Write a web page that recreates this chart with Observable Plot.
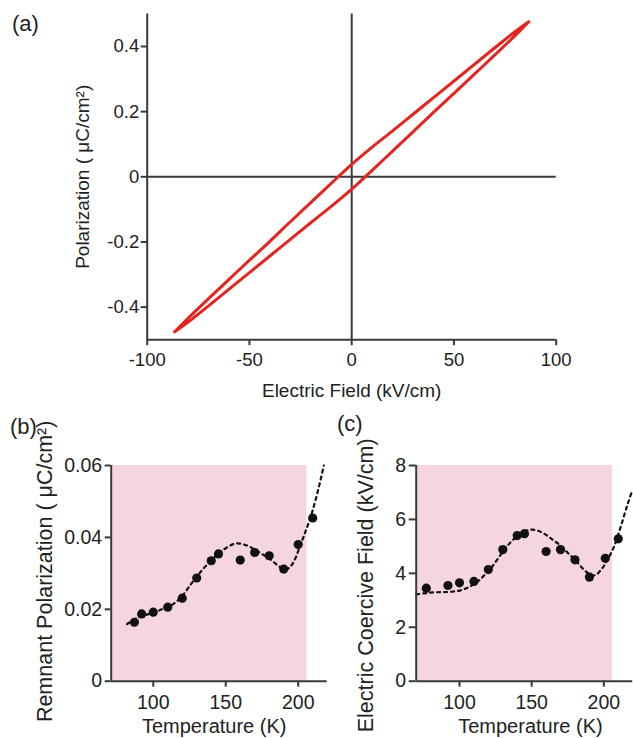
<!DOCTYPE html>
<html><head><meta charset="utf-8">
<script src="https://cdn.jsdelivr.net/npm/d3@7"></script>
<script src="https://cdn.jsdelivr.net/npm/@observablehq/plot@0.6"></script>
<style>
body{margin:0;background:#fff;}
#wrap{position:relative;width:633px;height:738px;font-family:"Liberation Sans",Arial,sans-serif;color:#222;overflow:hidden;background:#fff}
.panel{position:absolute}
.tag{position:absolute;font-size:22px;line-height:1;color:#222}
svg{overflow:visible}
</style></head><body>
<div id="wrap">
  <div class="panel" id="pa" style="left:0;top:0"></div>
  <div class="panel" id="pb" style="left:0;top:400px"></div>
  <div class="panel" id="pc" style="left:330px;top:400px"></div>
  <div class="tag" style="left:12px;top:13px">(a)</div>
  <div class="tag" style="left:10px;top:416px">(b)</div>
  <div class="tag" style="left:337px;top:413px">(c)</div>
</div>
<script>
// ---------- Panel (a): P–E hysteresis loop ----------
const loopE      = [-86.6,-80,-70,-60,-50,-40,-30,-20,-10,0,10,20,30,40,50,60,70,80,86.6];
const loopUpperP = [-0.476,-0.434,-0.374,-0.315,-0.256,-0.198,-0.138,-0.079,-0.020,0.038,0.091,0.141,0.192,0.243,0.294,0.345,0.396,0.446,0.476];
const loopLowerP = [-0.476,-0.446,-0.396,-0.345,-0.294,-0.243,-0.192,-0.141,-0.091,-0.038,0.020,0.079,0.138,0.198,0.256,0.315,0.374,0.434,0.476];
const xTicksA = [-100,-50,0,50,100];
const yTicksA = [-0.4,-0.2,0,0.2,0.4];
const xDomainA = [-100,100];
const yDomainA = [-0.5,0.5];
const xLabelA = "Electric Field (kV/cm)";
const yLabelA = "Polarization ( \u03BCC/cm\u00B2)";

// ---------- Panel (b): remnant polarization vs temperature ----------
const tempB     = [87,92,100,110,120,130,140,145,160,170,180,190,200,210];
const remnantP  = [0.0164,0.0187,0.0192,0.0206,0.0231,0.0287,0.0335,0.0354,0.0337,0.0358,0.0349,0.0312,0.0380,0.0454];
const fitTempB  = [82,90,98,106,114,120,126,130,135,140,145,150,157,165,170,175,180,186,191,194,197,200,204,208.5,213,217.7];
const fitRemP   = [0.0159,0.0178,0.0188,0.0200,0.0215,0.0237,0.0270,0.0290,0.0315,0.0335,0.0355,0.0370,0.0383,0.0377,0.0366,0.0354,0.0341,0.0322,0.0311,0.0316,0.0333,0.0362,0.0405,0.0456,0.0520,0.0600];
const xDomainB = [71,220];
const yDomainB = [0,0.06];
const xTicksB = [100,150,200];
const yTicksB = [0,0.02,0.04,0.06];
const shadeB = {x1: 71, x2: 206, y1: 0, y2: 0.06};

// ---------- Panel (c): coercive field vs temperature ----------
const tempC      = [77,92,100,110,120,130,140,145,160,170,180,190,201,210];
const coerciveE  = [3.45,3.55,3.65,3.70,4.14,4.88,5.40,5.47,4.81,4.88,4.50,3.86,4.56,5.28];
const fitTempC   = [70,77,84.5,92,100,106,112,117,121.5,126,130.7,135,140,145,150.4,155,160.8,165,170,175,180.4,185,189.6,192,195,197.7,200,202.3,206.9,211.6,216.2,219.7];
const fitCoerE   = [3.22,3.27,3.30,3.31,3.36,3.48,3.67,3.92,4.17,4.50,4.85,5.13,5.38,5.55,5.62,5.57,5.40,5.23,5.03,4.76,4.48,4.20,3.98,3.92,3.96,4.11,4.27,4.48,4.97,5.71,6.52,7.07];
const xDomainC = [70,220];
const yDomainC = [0,8];
const xTicksC = [100,150,200];
const yTicksC = [0,2,4,6,8];
const shadeC = {x1: 70, x2: 206, y1: 0, y2: 8};

const xLabelT = "Temperature (K)";
const yLabelB = "Remnant Polarization ( \u03BCC/cm\u00B2)";
const yLabelC = "Electric Coercive Field (kV/cm)";

const axisColor = "#3a3a3a";
const textColor = "#222";
const pink = "#f6d5e2";
const red = "#e3241f";
const font = "'Liberation Sans', Arial, sans-serif";
const fmt = d => String(d);
const baseStyle = {fontFamily: font, fontSize: "18px", color: textColor, background: "transparent", overflow: "visible"};

// loop path: upper branch from +Emax to -Emax, then lower branch back
const loop = [];
for (let i = loopE.length - 1; i >= 0; i--) loop.push({E: loopE[i], P: loopUpperP[i]});
for (let i = 0; i < loopE.length; i++) loop.push({E: loopE[i], P: loopLowerP[i]});

const plotA = Plot.plot({
  width: 633, height: 400,
  marginLeft: 146.7, marginRight: 77.3, marginTop: 13.4, marginBottom: 60.8,
  x: {domain: xDomainA, label: null},
  y: {domain: yDomainA, label: null},
  style: baseStyle,
  marks: [
    Plot.ruleY([0], {stroke: axisColor, strokeWidth: 2}),
    Plot.ruleX([0], {stroke: axisColor, strokeWidth: 2}),
    Plot.line(loop, {x: "E", y: "P", stroke: red, strokeWidth: 3, curve: "catmull-rom", strokeLinejoin: "round"}),
    Plot.ruleX([xDomainA[0]], {stroke: axisColor, strokeWidth: 2}),
    Plot.ruleY([yDomainA[0]], {stroke: axisColor, strokeWidth: 2}),
    Plot.axisX({ticks: xTicksA, tickFormat: fmt, tickSize: 6, tickPadding: 7, fontSize: 18.5, stroke: axisColor, strokeWidth: 2, fill: textColor, label: null}),
    Plot.axisY({ticks: yTicksA, tickFormat: fmt, tickSize: 6, tickPadding: 2, fontSize: 18.5, stroke: axisColor, strokeWidth: 2, fill: textColor, label: null}),
    Plot.text([xLabelA], {frameAnchor: "bottom", dy: 51, textAnchor: "middle", lineAnchor: "middle", fontSize: 19, fill: textColor}),
    Plot.text([yLabelA], {frameAnchor: "left", dx: -64, rotate: -90, textAnchor: "middle", lineAnchor: "middle", fontSize: 19, fill: textColor})
  ]
});
document.getElementById("pa").appendChild(plotA);

function tempPanel({width, marginLeft, marginRight, xDomain, yDomain, xTicks, yTicks, shade, temps, vals, fitT, fitV, yLabel, yLabelDx, yLabelDy, xLabelDx, yTickSize}) {
  const pts = temps.map((t, i) => ({T: t, v: vals[i]}));
  const fit = fitT.map((t, i) => ({T: t, v: fitV[i]}));
  return Plot.plot({
    width, height: 338,
    marginLeft, marginRight, marginTop: 65, marginBottom: 57.3,
    x: {domain: xDomain, label: null},
    y: {domain: yDomain, label: null},
    style: baseStyle,
    marks: [
      Plot.rect([shade], {x1: "x1", x2: "x2", y1: "y1", y2: "y2", fill: pink}),
      Plot.line(fit, {x: "T", y: "v", stroke: "#111", strokeWidth: 2.2, strokeDasharray: "3,4", curve: "catmull-rom"}),
      Plot.dot(pts, {x: "T", y: "v", r: 4.6, fill: "#111"}),
      Plot.ruleX([xDomain[0]], {stroke: axisColor, strokeWidth: 2}),
      Plot.ruleY([yDomain[0]], {stroke: axisColor, strokeWidth: 2}),
      Plot.axisX({ticks: xTicks, tickFormat: fmt, tickSize: 6, tickPadding: 8, fontSize: 19.5, stroke: axisColor, strokeWidth: 2, fill: textColor, label: null}),
      Plot.axisY({ticks: yTicks, tickFormat: fmt, tickSize: yTickSize, tickPadding: 3, fontSize: 19.5, stroke: axisColor, strokeWidth: 2, fill: textColor, label: null}),
      Plot.text([xLabelT], {frameAnchor: "bottom", dy: 45, dx: xLabelDx, textAnchor: "middle", lineAnchor: "middle", fontSize: 20, fill: textColor}),
      Plot.text([yLabel], {frameAnchor: "left", dx: yLabelDx, dy: yLabelDy, rotate: -90, textAnchor: "middle", lineAnchor: "middle", fontSize: 21.5, fill: textColor})
    ]
  });
}

document.getElementById("pb").appendChild(tempPanel({
  width: 330, marginLeft: 110.7, marginRight: 3.3,
  xDomain: xDomainB, yDomain: yDomainB, xTicks: xTicksB, yTicks: yTicksB, shade: shadeB,
  temps: tempB, vals: remnantP, fitT: fitTempB, fitV: fitRemP,
  yLabel: yLabelB, yLabelDx: -65.7, yLabelDy: -2, xLabelDx: -5, yTickSize: 6
}));

document.getElementById("pc").appendChild(tempPanel({
  width: 303, marginLeft: 85.7, marginRight: 0.8,
  xDomain: xDomainC, yDomain: yDomainC, xTicks: xTicksC, yTicks: yTicksC, shade: shadeC,
  temps: tempC, vals: coerciveE, fitT: fitTempC, fitV: fitCoerE,
  yLabel: yLabelC, yLabelDx: -49.7, yLabelDy: 12, xLabelDx: 6, yTickSize: 7
}));
</script>
</body></html>
